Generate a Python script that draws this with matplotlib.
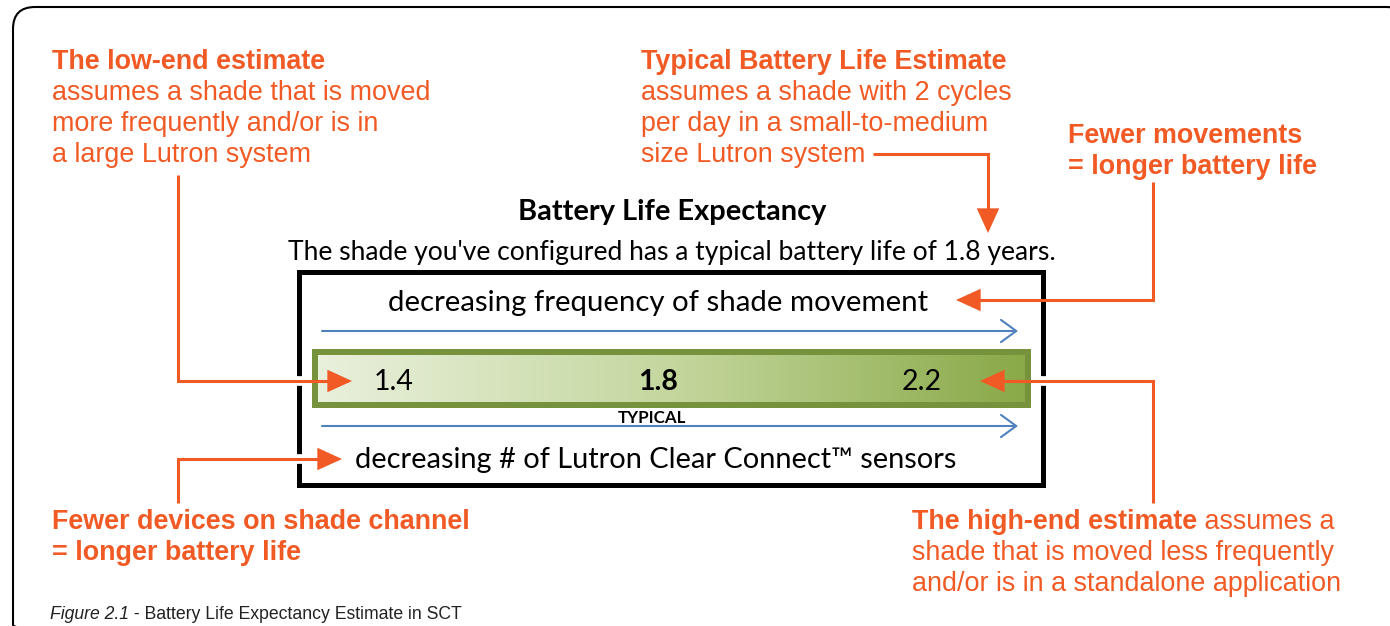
import numpy as np
import matplotlib.pyplot as plt
from matplotlib.patches import FancyBboxPatch, FancyArrowPatch, Rectangle
from matplotlib.path import Path
from matplotlib.colors import LinearSegmentedColormap

ORANGE = '#F15A24'
BLUE = '#4F81BD'
OLIVE = '#76923C'
SANS = ['Liberation Sans', 'DejaVu Sans']
CHART = ['Lato', 'DejaVu Sans']

# battery life estimates in years (low, typical, high)
estimates = [1.4, 1.8, 2.2]
estimate_labels = ['1.4', '1.8', '2.2']
estimate_weights = ['normal', 'bold', 'normal']
typical_years = 1.8

chart_title = 'Battery Life Expectancy'
chart_subtitle = f"The shade you've configured has a typical battery life of {typical_years} years."
top_axis_label = 'decreasing frequency of shade movement'
bottom_axis_label = 'decreasing # of Lutron Clear Connect\u2122 sensors'

low_end_lines = ['The low-end estimate', 'assumes a shade that is moved',
                 'more frequently and/or is in', 'a large Lutron system']
typical_lines = ['Typical Battery Life Estimate', 'assumes a shade with 2 cycles',
                 'per day in a small-to-medium', 'size Lutron system']
fewer_moves_lines = ['Fewer movements', '= longer battery life']
fewer_devices_lines = ['Fewer devices on shade channel', '= longer battery life']
high_end_lines = ['shade that is moved less frequently', 'and/or is in a standalone application']

W, H = 1390, 626
fig = plt.figure(figsize=(W / 100, H / 100), dpi=100)
ax = fig.add_axes([0, 0, 1, 1])
ax.set_xlim(0, W)
ax.set_ylim(H, 0)
ax.axis('off')
ax.set_zorder(2)


def fig_box(x0, y0, x1, y1):
    return [x0 / W, 1 - y1 / H, (x1 - x0) / W, (y1 - y0) / H]


# gradient bar, x axis in years
bar_ax = fig.add_axes(fig_box(318, 355, 1025, 402))
bar_ax.set_zorder(1)
lo, hi = 1.285, 2.356
grad = np.linspace(0, 1, 256).reshape(1, -1)
bar_cmap = LinearSegmentedColormap.from_list('bar', ['#E9F0DC', '#C4D79E', '#8AA948'])
bar_ax.imshow(grad, cmap=bar_cmap, extent=[lo, hi, 0, 1], aspect='auto', zorder=1)
bar_ax.set_xlim(lo, hi)
bar_ax.set_ylim(0, 1)
bar_ax.axis('off')
bar_ax.add_patch(Rectangle((312, 349), 719, 59, fc=OLIVE, ec='none',
                           transform=ax.transData, clip_on=False, zorder=0))
for v, lab, w in zip(estimates, estimate_labels, estimate_weights):
    bar_ax.text(v, 0.42, lab, ha='center', va='center', fontsize=20.5,
                fontweight=w, family=CHART, color='black', zorder=3)

# outer rounded frame
ax.add_patch(FancyBboxPatch((13, 7), 1395, 640, boxstyle='round,pad=0,rounding_size=22',
                            fc='none', ec='black', lw=1.5))

# chart box
ax.add_patch(Rectangle((299, 272), 744, 213, fc='none', ec='black', lw=3.6, zorder=2))
ax.text(672, 220, chart_title, ha='center', va='baseline', fontsize=20.9,
        fontweight='bold', family=CHART)
ax.text(672, 260, chart_subtitle, ha='center', va='baseline', fontsize=19.1, family=CHART)
ax.text(658, 311, top_axis_label, ha='center', va='baseline', fontsize=21.2, family=CHART)
ax.text(656, 468, bottom_axis_label, ha='center', va='baseline', fontsize=20.9, family=CHART)
ax.text(652, 423, 'TYPICAL', ha='center', va='baseline', fontsize=12.2,
        fontweight='bold', family=CHART)

for yb in (331, 426):
    ax.add_patch(FancyArrowPatch((322, yb), (1018, yb), arrowstyle='->,head_length=0.55,head_width=0.4',
                                 mutation_scale=20, color=BLUE, lw=1.5, shrinkA=0, shrinkB=0, zorder=3))


def text_block(x, y0, lines, n_bold=1, step=31):
    for i, line in enumerate(lines):
        ax.text(x, y0 + i * step, line, ha='left', va='baseline', fontsize=19.4,
                fontweight='bold' if i < n_bold else 'normal',
                color=ORANGE, family=SANS)


text_block(52, 69, low_end_lines)
text_block(641, 69, typical_lines)
text_block(1068, 143, fewer_moves_lines, n_bold=2)
text_block(52, 529, fewer_devices_lines, n_bold=2)

t_hi = ax.text(912, 529, 'The high-end estimate', ha='left', va='baseline', fontsize=19.4,
               fontweight='bold', color=ORANGE, family=SANS)
ax.annotate(' assumes a', xy=(1, 0), xycoords=t_hi, ha='left', va='bottom', fontsize=19.4,
            color=ORANGE, family=SANS)
text_block(912, 560, high_end_lines, n_bold=0)

# orange callout arrows
callouts = [
    [(178, 175), (178, 381), (352, 381)],
    [(873, 154), (988, 154), (988, 233)],
    [(1153, 182), (1153, 300), (956, 300)],
    [(178, 503), (178, 459), (342, 459)],
    [(1153, 503), (1153, 381), (980, 381)],
]
gaps = [(178, 309, 381), (1050, 1153, 300), (178, 330, 459), (1034, 1153, 381)]
for x0, x1, yy in gaps:
    ax.plot([x0, x1], [yy, yy], color='white', lw=7, solid_capstyle='butt', zorder=3)
for pts in callouts:
    ax.add_patch(FancyArrowPatch(path=Path(pts), arrowstyle='-|>,head_length=0.7,head_width=0.32',
                                 mutation_scale=20, color=ORANGE, lw=2.2, joinstyle='miter',
                                 capstyle='butt', zorder=4))

cap = ax.text(50, 619, 'Figure 2.1', ha='left', va='baseline', fontsize=12.7,
              style='italic', family=SANS, color='#222222')
ax.annotate(' - Battery Life Expectancy Estimate in SCT', xy=(1, 0), xycoords=cap,
            ha='left', va='bottom', fontsize=12.7, family=SANS, color='#222222')

fig.savefig('out.png', dpi=100, facecolor='white')
